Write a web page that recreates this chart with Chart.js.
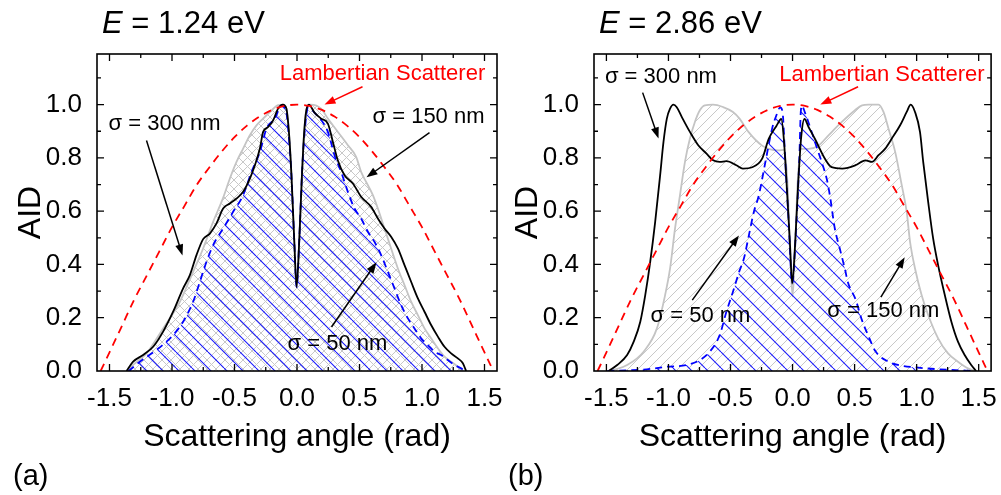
<!DOCTYPE html>
<html>
<head>
<meta charset="utf-8">
<script src="https://cdn.jsdelivr.net/npm/chart.js@4.4.1/dist/chart.umd.min.js"></script>
<style>
  html, body { margin: 0; padding: 0; background: #fff; width: 1001px; height: 495px; overflow: hidden; }
  canvas { position: absolute; top: 0; }
  #chartA { left: 0; }
  #chartB { left: 497px; }
</style>
</head>
<body>
<canvas id="chartA" width="520" height="495"></canvas>
<canvas id="chartB" width="504" height="495"></canvas>
<script>
// ---- angular intensity distributions, panel (a): E = 1.24 eV ----
const angleA300 = [-1.364,-1.311,-1.231,-1.151,-1.071,-0.991,-0.911,-0.857,-0.804,-0.751,-0.697,-0.644,-0.591,-0.537,-0.484,-0.431,-0.377,-0.337,-0.297,-0.271,-0.231,-0.191,-0.151,-0.113,-0.085,-0.062,-0.045,-0.022,-0.003,0.018,0.04,0.058,0.075,0.095,0.14,0.193,0.247,0.287,0.327,0.38,0.447,0.513,0.593,0.647,0.7,0.753,0.807,0.86,0.913,0.967,1.02,1.073,1.127,1.18,1.233,1.287,1.327,1.353];
const aidA300   = [0,0.035,0.06,0.091,0.148,0.2225,0.31,0.36,0.435,0.495,0.516,0.554,0.61,0.629,0.6475,0.6725,0.7225,0.7725,0.835,0.8975,0.916,0.941,0.985,1.0,0.985,0.88,0.74,0.49,0.315,0.49,0.74,0.9,0.98,1.0,0.97,0.9475,0.929,0.86,0.79,0.735,0.704,0.654,0.616,0.5725,0.535,0.504,0.46,0.3975,0.335,0.2725,0.2225,0.1725,0.129,0.091,0.066,0.0475,0.029,0];

const angleA150 = [-1.35,-1.337,-1.204,-1.071,-0.937,-0.831,-0.751,-0.671,-0.591,-0.537,-0.484,-0.431,-0.377,-0.324,-0.271,-0.217,-0.151,-0.11,-0.085,-0.062,-0.045,-0.022,-0.003,0.018,0.04,0.058,0.075,0.11,0.193,0.247,0.327,0.407,0.473,0.513,0.553,0.607,0.647,0.70,0.753,0.807,0.86,0.913,0.967,1.02,1.073,1.127,1.18,1.233,1.287,1.327];
const aidA150   = [0,0.01,0.066,0.16,0.26,0.3725,0.46,0.56,0.65,0.7225,0.785,0.835,0.885,0.922,0.9475,0.972,0.998,1.0,0.985,0.88,0.74,0.49,0.315,0.49,0.74,0.9,0.98,1.0,0.985,0.9475,0.8975,0.8475,0.804,0.7475,0.71,0.66,0.61,0.535,0.46,0.385,0.3225,0.26,0.21,0.16,0.1225,0.085,0.054,0.035,0.016,0];

const angleA50  = [-1.35,-1.337,-1.257,-1.124,-0.991,-0.911,-0.831,-0.777,-0.724,-0.671,-0.591,-0.511,-0.431,-0.364,-0.297,-0.244,-0.177,-0.124,-0.085,-0.062,-0.045,-0.022,-0.003,0.018,0.04,0.058,0.09,0.14,0.247,0.30,0.353,0.407,0.46,0.513,0.567,0.62,0.673,0.727,0.78,0.833,0.887,0.94,0.993,1.047,1.1,1.153,1.207,1.26,1.313,1.34];
const aidA50    = [0,0.004,0.035,0.079,0.135,0.185,0.26,0.335,0.41,0.4725,0.535,0.5975,0.66,0.7475,0.8225,0.91,0.9475,0.9975,0.97,0.86,0.74,0.49,0.315,0.49,0.74,0.88,0.99,0.97,0.8975,0.81,0.7475,0.6725,0.61,0.5725,0.5225,0.485,0.435,0.3725,0.31,0.2475,0.1975,0.16,0.1225,0.0975,0.0725,0.06,0.041,0.0225,0.01,0];

// ---- panel (b): E = 2.86 eV ----
const angleB300 = [-1.48,-1.413,-1.333,-1.28,-1.227,-1.187,-1.147,-1.107,-1.067,-1.04,-1.013,-0.987,-0.96,-0.933,-0.893,-0.827,-0.76,-0.693,-0.64,-0.587,-0.533,-0.453,-0.4,-0.325,-0.245,-0.192,-0.13,-0.091,-0.07,-0.045,-0.02,-0.003,0.02,0.045,0.07,0.096,0.13,0.181,0.261,0.315,0.4,0.507,0.587,0.64,0.693,0.747,0.8,0.867,0.92,0.952,0.987,1.027,1.053,1.093,1.133,1.173,1.227,1.28,1.333,1.387,1.44,1.48];
const aidB300   = [0,0.0225,0.06,0.11,0.185,0.285,0.41,0.56,0.735,0.86,0.9475,0.985,1.0,0.99,0.954,0.8975,0.8475,0.816,0.791,0.785,0.7875,0.7725,0.76,0.765,0.797,0.871,0.92,0.946,0.87,0.68,0.47,0.328,0.47,0.7,0.88,0.946,0.915,0.871,0.797,0.765,0.76,0.7725,0.791,0.785,0.81,0.835,0.8725,0.9225,0.9725,1.0,0.9725,0.8975,0.785,0.635,0.4975,0.3975,0.285,0.185,0.11,0.06,0.0225,0];

const angleB150 = [-1.47,-1.44,-1.333,-1.2,-1.093,-1.027,-0.987,-0.947,-0.907,-0.867,-0.827,-0.787,-0.747,-0.707,-0.64,-0.56,-0.48,-0.427,-0.352,-0.245,-0.192,-0.112,-0.07,-0.04,-0.02,0,0.02,0.04,0.07,0.128,0.208,0.288,0.395,0.501,0.56,0.613,0.693,0.733,0.773,0.827,0.88,0.92,0.947,0.987,1.04,1.093,1.173,1.253,1.333,1.413,1.467];
const aidB150   = [0,0.004,0.0225,0.0725,0.16,0.285,0.385,0.535,0.66,0.785,0.8725,0.935,0.979,0.9975,1.0,0.991,0.9725,0.9475,0.896,0.846,0.834,0.828,0.83,0.7,0.45,0.28,0.45,0.7,0.834,0.834,0.846,0.884,0.934,0.978,0.9975,1.0,1.0,0.9725,0.91,0.8225,0.6975,0.5975,0.485,0.385,0.285,0.21,0.1225,0.066,0.035,0.01,0];

const angleB50  = [-1.493,-1.333,-1.2,-1.013,-0.853,-0.747,-0.667,-0.587,-0.533,-0.48,-0.432,-0.392,-0.352,-0.312,-0.272,-0.219,-0.165,-0.13,-0.099,-0.08,-0.06,-0.03,-0.003,0.03,0.055,0.065,0.075,0.1,0.128,0.181,0.235,0.275,0.301,0.341,0.381,0.421,0.448,0.507,0.56,0.613,0.667,0.773,0.88,1.013,1.147,1.28,1.467];
const aidB50    = [0,0.0025,0.005,0.016,0.0225,0.041,0.0725,0.135,0.2225,0.2975,0.37,0.422,0.509,0.597,0.659,0.784,0.909,0.96,0.99,0.97,0.8,0.55,0.33,0.55,0.8,0.96,0.996,0.97,0.934,0.859,0.784,0.722,0.659,0.534,0.459,0.385,0.33,0.27,0.19,0.13,0.075,0.035,0.02,0.0125,0.0075,0.004,0];

// ---- Lambertian reference (both panels) ----
const lambertAngle = [-1.571,-1.5,-1.4,-1.3,-1.2,-1.1,-1.0,-0.9,-0.8,-0.7,-0.6,-0.5,-0.4,-0.3,-0.2,-0.1,0,0.1,0.2,0.3,0.4,0.5,0.6,0.7,0.8,0.9,1.0,1.1,1.2,1.3,1.4,1.5,1.571];
const lambertAid   = [0,0.07,0.17,0.27,0.36,0.45,0.54,0.62,0.70,0.765,0.825,0.878,0.921,0.955,0.98,0.995,1.0,0.995,0.98,0.955,0.921,0.878,0.825,0.765,0.70,0.62,0.54,0.45,0.36,0.27,0.17,0.07,0];

// ---- axis ticks and labels ----
const angleTicks = [-1.5,-1.0,-0.5,0.0,0.5,1.0,1.5];
const aidTicks   = [0.0,0.2,0.4,0.6,0.8,1.0];
const energies   = ['1.24 eV','2.86 eV'];
const panelTags  = ['(a)','(b)'];

const FONT = "'Liberation Sans', Arial, Helvetica, sans-serif";

// annotation text and arrows, placed in data coordinates
const notesA = [
  { text: 'Lambertian Scatterer', color: '#ff0000', x: 0.684, y: 1.116, align: 'center', from: [0.524, 1.067], to: [0.22, 1.0] },
  { text: 'σ = 300 nm', x: -1.508, y: 0.929, align: 'left', from: [-1.204, 0.865], to: [-0.916, 0.434] },
  { text: 'σ = 150 nm', x: 0.604, y: 0.955, align: 'left', from: [1.06, 0.895], to: [0.556, 0.727] },
  { text: 'σ = 50 nm', x: -0.076, y: 0.101, align: 'left', from: [0.276, 0.165], to: [0.636, 0.408] }
];
const notesB = [
  { text: 'σ = 300 nm', x: -1.512, y: 1.105, align: 'left', from: [-1.208, 1.045], to: [-1.08, 0.873] },
  { text: 'Lambertian Scatterer', color: '#ff0000', x: 0.72, y: 1.112, align: 'center', from: [0.528, 1.067], to: [0.224, 1.0] },
  { text: 'σ = 50 nm', x: -1.144, y: 0.206, align: 'left', from: [-0.808, 0.266], to: [-0.432, 0.509] },
  { text: 'σ = 150 nm', x: 0.28, y: 0.225, align: 'left', from: [0.712, 0.277], to: [0.904, 0.427] }
];

function points(xs, ys) {
  const n = Math.min(xs.length, ys.length);
  const out = [];
  for (let i = 0; i < n; i++) out.push({ x: xs[i], y: ys[i] });
  return out;
}

// diagonal hatch tile; '/' and '\' directions
function hatch(color, size, dirs, width) {
  const c = document.createElement('canvas');
  c.width = size; c.height = size;
  const g = c.getContext('2d');
  g.strokeStyle = color; g.lineWidth = width;
  dirs.forEach(d => {
    [-size, 0, size].forEach(o => {
      g.beginPath();
      if (d === '/') { g.moveTo(o, size); g.lineTo(o + size, 0); }
      else { g.moveTo(o, 0); g.lineTo(o + size, size); }
      g.stroke();
    });
  });
  return g.createPattern(c, 'repeat');
}

// frame with inward major/minor ticks on all four sides
const framePlugin = {
  id: 'frame',
  afterDatasetsDraw(chart) {
    const { ctx, chartArea: a, scales: { x, y } } = chart;
    ctx.save();
    ctx.strokeStyle = '#000';
    ctx.lineWidth = 1.6;
    ctx.strokeRect(a.left, a.top, a.right - a.left, a.bottom - a.top);
    ctx.lineWidth = 1.3;
    ctx.beginPath();
    const xt = [];
    angleTicks.forEach((v, i) => { xt.push([v, 7]); if (i < angleTicks.length - 1) xt.push([v + 0.25, 4]); });
    xt.push([angleTicks[0] - 0.25, 4]);
    xt.forEach(([v, L]) => {
      const p = x.getPixelForValue(v);
      if (p <= a.left + 1 || p >= a.right - 1) return;
      ctx.moveTo(p, a.bottom); ctx.lineTo(p, a.bottom - L);
      ctx.moveTo(p, a.top); ctx.lineTo(p, a.top + L);
    });
    const yt = [];
    aidTicks.forEach(v => { yt.push([v, 7]); yt.push([v + 0.1, 4]); });
    yt.forEach(([v, L]) => {
      const p = y.getPixelForValue(v);
      if (p <= a.top + 1 || p >= a.bottom - 1) return;
      ctx.moveTo(a.left, p); ctx.lineTo(a.left + L, p);
      ctx.moveTo(a.right, p); ctx.lineTo(a.right - L, p);
    });
    ctx.stroke();
    ctx.restore();
  }
};

function arrow(ctx, x1, y1, x2, y2, color) {
  const ang = Math.atan2(y2 - y1, x2 - x1);
  const L = 11, W = 4;
  ctx.strokeStyle = color; ctx.fillStyle = color; ctx.lineWidth = 1.5;
  ctx.beginPath();
  ctx.moveTo(x1, y1);
  ctx.lineTo(x2 - Math.cos(ang) * L * 0.8, y2 - Math.sin(ang) * L * 0.8);
  ctx.stroke();
  ctx.beginPath();
  ctx.moveTo(x2, y2);
  ctx.lineTo(x2 - Math.cos(ang) * L + Math.sin(ang) * W, y2 - Math.sin(ang) * L - Math.cos(ang) * W);
  ctx.lineTo(x2 - Math.cos(ang) * L - Math.sin(ang) * W, y2 - Math.sin(ang) * L + Math.cos(ang) * W);
  ctx.closePath();
  ctx.fill();
}

const notesPlugin = {
  id: 'notes',
  afterDatasetsDraw(chart, args, opts) {
    const { ctx, scales: { x, y } } = chart;
    ctx.save();
    ctx.textBaseline = 'middle';
    ctx.font = '22px ' + FONT;
    (opts.items || []).forEach(n => {
      const col = n.color || '#000';
      ctx.fillStyle = col;
      ctx.textAlign = n.align;
      ctx.fillText(n.text, x.getPixelForValue(n.x), y.getPixelForValue(n.y));
      arrow(ctx, x.getPixelForValue(n.from[0]), y.getPixelForValue(n.from[1]),
                 x.getPixelForValue(n.to[0]), y.getPixelForValue(n.to[1]), col);
    });
    ctx.restore();
  }
};

// "E = ... eV" heading and the panel tag
const headingPlugin = {
  id: 'heading',
  afterDraw(chart, args, opts) {
    const { ctx, chartArea: a } = chart;
    ctx.save();
    ctx.fillStyle = '#000';
    ctx.textBaseline = 'alphabetic';
    ctx.textAlign = 'left';
    const x0 = a.left + 5;
    ctx.font = 'italic 31px ' + FONT;
    ctx.fillText('E', x0, 33);
    const w = ctx.measureText('E').width;
    ctx.font = '31px ' + FONT;
    ctx.fillText(' = ' + opts.energy, x0 + w, 33);
    ctx.font = '29px ' + FONT;
    ctx.fillText(opts.tag, opts.tagX, 485);
    ctx.restore();
  }
};

function makePanel(id, sets, grayPattern, notes, energy, tag, tagX, padRight) {
  const bluePattern = hatch('rgba(0,0,255,0.9)', 16, ['\\'], 1.1);
  return new Chart(document.getElementById(id), {
    type: 'line',
    data: {
      datasets: [
        { label: 'Lambertian', data: points(lambertAngle, lambertAid), borderColor: '#ff0000', borderWidth: 1.8,
          borderDash: [8, 6], fill: false, order: 0 },
        { label: 'σ = 300 nm', data: points(sets[0][0], sets[0][1]), borderColor: '#000000', borderWidth: 1.8,
          fill: false, order: 1 },
        { label: 'σ = 50 nm', data: points(sets[2][0], sets[2][1]), borderColor: '#0000ff', borderWidth: 1.8,
          borderDash: [7, 5], fill: 'origin', backgroundColor: bluePattern, order: 2 },
        { label: 'σ = 150 nm', data: points(sets[1][0], sets[1][1]), borderColor: '#c4c4c4', borderWidth: 1.8,
          fill: 'origin', backgroundColor: grayPattern, order: 3 }
      ]
    },
    options: {
      responsive: false,
      animation: false,
      events: [],
      parsing: true,
      elements: { point: { radius: 0 }, line: { cubicInterpolationMode: 'monotone' } },
      layout: { padding: { left: 0, right: padRight, top: 54, bottom: 0 } },
      plugins: {
        legend: { display: false },
        tooltip: { enabled: false },
        filler: { propagate: false },
        notes: { items: notes },
        heading: { energy: energy, tag: tag, tagX: tagX }
      },
      scales: {
        x: {
          type: 'linear', min: -1.6, max: 1.6,
          grid: { display: false }, border: { display: false },
          afterBuildTicks: s => { s.ticks = angleTicks.map(v => ({ value: v })); },
          ticks: { padding: 4, color: '#000', font: { family: FONT, size: 26 }, maxRotation: 0, autoSkip: false,
                   callback: v => Number(v).toFixed(1) },
          title: { display: true, text: 'Scattering angle (rad)', color: '#000',
                   font: { family: FONT, size: 32 }, padding: { top: 0, bottom: 39 } },
          afterFit: s => { s.height = 124; }
        },
        y: {
          type: 'linear', min: 0, max: 1.19,
          grid: { display: false }, border: { display: false },
          afterBuildTicks: s => { s.ticks = aidTicks.map(v => ({ value: v })); },
          ticks: { padding: 7, color: '#000', font: { family: FONT, size: 26 },
                   callback: v => Number(v).toFixed(1) },
          title: { display: true, text: 'AID', color: '#000',
                   font: { family: FONT, size: 32 }, padding: { top: 12, bottom: 0 } },
          afterFit: s => { s.width = 97; }
        }
      }
    },
    plugins: [framePlugin, notesPlugin, headingPlugin]
  });
}

makePanel('chartA',
  [[angleA300, aidA300], [angleA150, aidA150], [angleA50, aidA50]],
  hatch('#c8c8c8', 9, ['/', '\\'], 1),
  notesA, energies[0], panelTags[0], 13, 23);

makePanel('chartB',
  [[angleB300, aidB300], [angleB150, aidB150], [angleB50, aidB50]],
  hatch('#c8c8c8', 10, ['/'], 1),
  notesB, energies[1], panelTags[1], 11, 8);
</script>
</body>
</html>
